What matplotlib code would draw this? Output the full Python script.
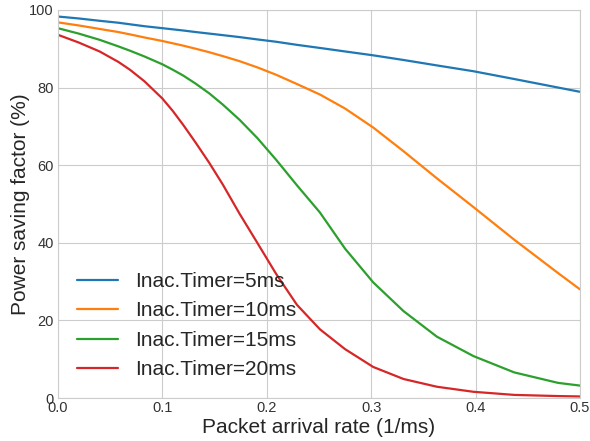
import matplotlib
matplotlib.use("Agg")
import matplotlib.pyplot as plt
import seaborn as sns

# packet arrival rate (1/ms)
rate = [0, 0.02, 0.04, 0.058, 0.069, 0.083, 0.1, 0.11, 0.12, 0.132, 0.145, 0.158,
        0.174, 0.191, 0.209, 0.229, 0.251, 0.275, 0.302, 0.331, 0.363, 0.398,
        0.437, 0.479, 0.5]

# power saving factor (%) per inactivity timer
psf_5ms = [98.3, 97.8, 97.2, 96.7, 96.3, 95.8, 95.3, 95.0, 94.7, 94.3, 93.9, 93.5,
           93.0, 92.4, 91.8, 91.0, 90.2, 89.3, 88.3, 87.1, 85.7, 84.2, 82.2, 80.0, 78.9]
psf_10ms = [96.8, 96.0, 95.1, 94.3, 93.7, 92.9, 92.0, 91.4, 90.8, 90.0, 89.1, 88.1,
            86.8, 85.2, 83.3, 80.9, 78.2, 74.6, 69.7, 63.6, 56.6, 49.2, 40.8, 32.2, 28.0]
psf_15ms = [95.3, 93.9, 92.3, 90.6, 89.5, 88.0, 86.0, 84.6, 83.1, 81.0, 78.5, 75.6,
            71.7, 67.0, 61.4, 54.8, 47.8, 38.5, 29.8, 22.4, 15.8, 10.8, 6.6, 3.9, 3.2]
psf_20ms = [93.6, 91.6, 89.3, 86.6, 84.6, 81.6, 77.2, 74.0, 70.4, 65.8, 60.6, 55.0,
            47.5, 40.0, 32.0, 24.0, 17.7, 12.6, 8.0, 4.9, 2.9, 1.6, 0.8, 0.5, 0.4]

labels = ["Inac.Timer=5ms", "Inac.Timer=10ms", "Inac.Timer=15ms", "Inac.Timer=20ms"]
series = [psf_5ms, psf_10ms, psf_15ms, psf_20ms]

sns.set_style("whitegrid")
plt.rcParams['font.family'] = ['Liberation Sans', 'DejaVu Sans']

fig = plt.figure(figsize=(5.9, 4.41), dpi=100)
ax = fig.add_axes([0.098, 0.0975, 0.885, 0.88])

colors = plt.cm.tab10.colors
for i, vals in enumerate(series):
    ax.plot(rate, vals, color=colors[i], linewidth=1.6, label=labels[i])

ax.set_xlim(0, 0.5)
ax.set_ylim(0, 100)
ax.set_xticks([0.0, 0.1, 0.2, 0.3, 0.4, 0.5])
ax.set_yticks([0, 20, 40, 60, 80, 100])
ax.tick_params(labelsize=10.5, colors="#333333", length=0)
ax.tick_params(axis="x", pad=2)
ax.tick_params(axis="y", pad=3)
ax.set_xlabel("Packet arrival rate (1/ms)", fontsize=15, color="#262626", labelpad=2)
ax.set_ylabel("Power saving factor (%)", fontsize=15, color="#262626", labelpad=-0.5)

ax.legend(loc="lower left", frameon=False, fontsize=15)

plt.savefig("out.png", dpi=100)
plt.close()
